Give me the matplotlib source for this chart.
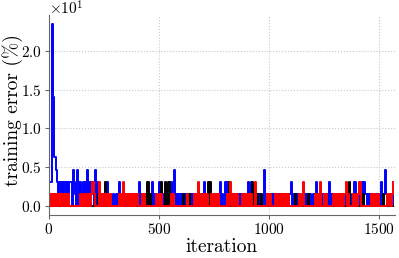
import numpy as np
import matplotlib
matplotlib.use('Agg')
import matplotlib.pyplot as plt

# misclassified samples per batch of 64, one char per 5 iterations (hex digit)
step = 5
batch = 64
blue_counts = ("222f944321" "2121221212" "2032103202" "1202131212" "1030201010"
               "1012101001" "0101210101" "0101010101" "0120101010" "1010201010"
               "2010101010" "1201310101" "0101010101" "0101010101" "0201012010"
               "1010112010" "2120101010" "1010101010" "1201201010" "1010003101"
               "0101010101" "0101010101" "2010101010" "1010101010" "1012010101"
               "0101021010" "1010101010" "1010100120" "1010120210" "1010101010"
               "1021013101" "0101")
black_counts = ("0000000000" "0000000000" "0000000000" "0000000000" "0000010000"
                "0200000000" "0000000000" "0000000000" "0000000000" "2010000000"
                "0020002102" "0000000000" "0010000010" "0000000000" "0000020200"
                "0000000000" "0000200000" "0000000000" "0000020001" "0001000000"
                "0000000000" "0000000000" "0000100000" "0000001000" "0000000000"
                "0000000000" "0000000000" "0002000000" "0000001000" "0000000000"
                "0000100000" "0000")
red_counts = ("1010101010" "1010101010" "0000000001" "0101010101" "2100002010"
              "1010101000" "0000101020" "1010101010" "1000010100" "0000000010"
              "1010000000" "0101000000" "0000001000" "0010102010" "1010100010"
              "1010100000" "0010120101" "0100001010" "1010100020" "0000000001"
              "0100001010" "1010101010" "0000000010" "1200000000" "0010100200"
              "1010000001" "0101010101" "2010000101" "0122000000" "0001010101"
              "0000000010" "1012")

def to_err(s):
    return np.array([int(c, 16) for c in s]) * 100.0 / batch

plt.rcParams['font.family'] = 'serif'
plt.rcParams['font.serif'] = ['cmr10']
plt.rcParams['mathtext.fontset'] = 'cm'
plt.rcParams['axes.formatter.use_mathtext'] = True

fig = plt.figure(figsize=(3.99, 2.58), dpi=100)
ax = fig.add_axes([0.1228, 0.1667, 0.8672, 0.7752])

for s, c in [(blue_counts, 'blue'), (black_counts, 'black'), (red_counts, 'red')]:
    y = to_err(s)
    x = np.arange(len(y)) * step
    ax.plot(x, y, color=c, linewidth=1.4, drawstyle='steps-mid')

ax.set_xlim(0, 1572)
ax.set_ylim(-1.17, 24.61)
ax.set_xticks([0, 500, 1000, 1500])
ax.set_yticks([0, 5, 10, 15, 20])
ax.ticklabel_format(axis='y', style='sci', scilimits=(0, 0))
ax.yaxis.OFFSETTEXTPAD = 0
ax.yaxis.get_offset_text().set_fontsize(11)

ax.grid(True, linestyle=':', color='#c8c8c8', linewidth=0.8)
ax.set_axisbelow(True)
for side in ['top', 'right']:
    ax.spines[side].set_visible(False)
for side in ['left', 'bottom']:
    ax.spines[side].set_color('#666666')
ax.tick_params(labelsize=11, length=3, color='#666666', pad=2)

ax.set_xlabel('iteration', fontsize=14, labelpad=1)
ax.set_ylabel('training error (%)', fontsize=14)
ax.yaxis.set_label_coords(-0.075, 0.525)

fig.savefig('out.png', dpi=100)
